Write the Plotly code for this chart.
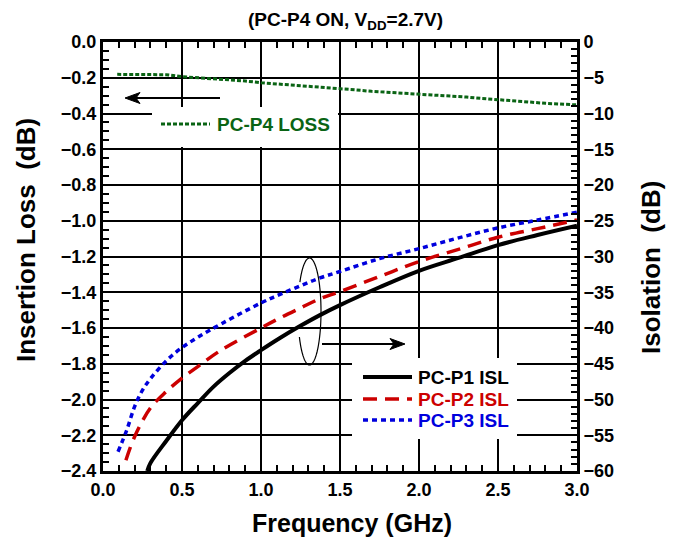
import numpy as np
import plotly.graph_objects as go

# ---------------- data ----------------
freq_p4 = [0.09, 0.2, 0.3, 0.4, 0.5, 0.6, 0.7, 0.8, 0.9, 1.0, 1.1, 1.2, 1.3, 1.4, 1.5,
           1.6, 1.7, 1.8, 1.9, 2.0, 2.1, 2.2, 2.3, 2.4, 2.5, 2.6, 2.7, 2.8, 2.9, 3.0]
loss_p4 = [-0.181, -0.182, -0.185, -0.183, -0.194, -0.199, -0.205, -0.212, -0.218, -0.228,
           -0.234, -0.240, -0.247, -0.256, -0.262, -0.268, -0.276, -0.281, -0.287, -0.293,
           -0.298, -0.305, -0.308, -0.316, -0.324, -0.330, -0.336, -0.343, -0.349, -0.352]

freq_p1 = [0.28, 0.3, 0.4, 0.5, 0.6, 0.7, 0.8, 0.9, 1.0, 1.12, 1.25, 1.373, 1.5, 1.75,
           2.0, 2.25, 2.5, 2.75, 3.0]
isl_p1 = [-60.0, -58.9, -55.8, -52.9, -50.5, -48.2, -46.3, -44.6, -43.1, -41.4, -39.7,
          -38.2, -36.8, -34.3, -32.0, -30.2, -28.4, -27.0, -25.7]

freq_p2 = [0.145, 0.2, 0.3, 0.4, 0.5, 0.6, 0.74, 1.0, 1.12, 1.25, 1.373, 1.5, 1.75, 2.0,
           2.25, 2.5, 2.75, 3.0]
isl_p2 = [-58.5, -55.2, -51.2, -48.9, -47.0, -45.4, -43.2, -40.0, -38.6, -37.2, -35.9,
          -34.9, -32.8, -30.7, -29.0, -27.3, -26.1, -24.9]

freq_p3 = [0.095, 0.15, 0.2, 0.25, 0.3, 0.4, 0.49, 0.6, 0.75, 1.0, 1.12, 1.25, 1.373,
           1.5, 1.75, 2.0, 2.25, 2.5, 2.75, 3.0]
isl_p3 = [-57.3, -54.3, -51.0, -48.7, -47.1, -44.6, -42.9, -41.3, -39.4, -36.5, -35.3,
          -34.1, -33.0, -32.1, -30.3, -28.9, -27.4, -26.0, -24.9, -23.8]

series_names = ["PC-P1 ISL", "PC-P2 ISL", "PC-P3 ISL"]
loss_name = "PC-P4 LOSS"
title_text = "(PC-P4 ON, V<sub>DD</sub>=2.7V)"
x_title = "Frequency (GHz)"
y_title = "Insertion Loss&nbsp; (dB)"
y2_title = "Isolation&nbsp; (dB)"

# ---------------- styling ----------------
FONT = "Liberation Sans, Arial, Helvetica, sans-serif"
GREEN = "#0a6414"
RED = "#cc0000"
BLUE = "#0000dd"

OFF = 8                      # default page body margin
W, H = 677 - OFF, 542 - OFF  # figure size inside the page
L, R, T, B = 103 - OFF, 100, 42 - OFF, 71
X0, X1 = 0.0, 3.0
Y0, Y1 = -2.4, 0.0
plot_w = W - L - R
plot_h = H - T - B


def px_x(px):
    """page pixel -> x data"""
    return X0 + (px - OFF - L) / plot_w * (X1 - X0)


def px_y(py):
    """page pixel -> left-axis data"""
    return Y1 - (py - OFF - T) / plot_h * (Y1 - Y0)


def page_px(px):
    return px - OFF


fig = go.Figure()

fig.add_trace(go.Scatter(
    x=freq_p4, y=loss_p4, mode="lines", yaxis="y", xaxis="x",
    line=dict(color=GREEN, width=3, dash="4px,2px"), showlegend=False,
    name=loss_name))
fig.add_trace(go.Scatter(
    x=freq_p1, y=isl_p1, mode="lines", yaxis="y2", xaxis="x", line_shape="spline",
    line=dict(color="black", width=4), showlegend=False, name=series_names[0]))
fig.add_trace(go.Scatter(
    x=freq_p2, y=isl_p2, mode="lines", yaxis="y2", xaxis="x", line_shape="spline",
    line=dict(color=RED, width=3.5, dash="14px,8px"), showlegend=False,
    name=series_names[1]))
fig.add_trace(go.Scatter(
    x=freq_p3, y=isl_p3, mode="lines", yaxis="y2", xaxis="x", line_shape="spline",
    line=dict(color=BLUE, width=3.5, dash="5px,4px"), showlegend=False,
    name=series_names[2]))
# invisible trace to anchor the top (mirror) axis
fig.add_trace(go.Scatter(x=[X0, X1], y=[None, None], xaxis="x2", yaxis="y",
                         mode="lines", showlegend=False, hoverinfo="skip"))

tickfont = dict(family=FONT, size=18, color="black", weight="bold")
common = dict(showline=True, linecolor="black", linewidth=3, ticks="inside",
              ticklen=7, tickwidth=2, tickcolor="black", zeroline=False,
              tickfont=tickfont)

fig.update_layout(
    width=W, height=H, autosize=False,
    margin=dict(l=L, r=R, t=T, b=B, pad=0),
    paper_bgcolor="white", plot_bgcolor="white",
    font=dict(family=FONT, color="black"),
    showlegend=False,
    xaxis=dict(range=[X0, X1], dtick=0.5, tick0=0, tickformat=".1f",
               showgrid=True, gridcolor="black", gridwidth=2, mirror=True,
               minor=dict(dtick=0.1, ticks="inside", ticklen=6, tickwidth=2,
                          tickcolor="black", showgrid=False),
               **common),
    xaxis2=dict(range=[X0, X1], overlaying="x", side="top", anchor="y",
                showticklabels=False, showgrid=False, dtick=0.5, tick0=0,
                minor=dict(dtick=0.1, ticks="inside", ticklen=6, tickwidth=2,
                           tickcolor="black", showgrid=False), **common),
    yaxis=dict(range=[Y0, Y1], dtick=0.2, tick0=0, tickformat=".1f",
               showgrid=True, gridcolor="black", gridwidth=2, mirror=True,
               minor=dict(dtick=0.05, ticks="inside", ticklen=6, tickwidth=2,
                          tickcolor="black", showgrid=False),
               **common),
    yaxis2=dict(range=[-60, 0], dtick=5, tick0=0, overlaying="y", side="right",
                anchor="x", showgrid=False,
                minor=dict(dtick=1, ticks="inside", ticklen=6, tickwidth=2,
                           tickcolor="black", showgrid=False),
                **common),
)

shapes = []
annotations = []

# PC-P4 LOSS label box (covers grid) with a line sample
shapes.append(dict(type="rect", xref="x", yref="y", layer="above",
                   x0=px_x(152), x1=px_x(338), y0=px_y(107), y1=px_y(147),
                   fillcolor="white", line=dict(width=0)))
shapes.append(dict(type="line", xref="x", yref="y", layer="above",
                   x0=px_x(161), x1=px_x(210), y0=px_y(124), y1=px_y(124),
                   line=dict(color=GREEN, width=3, dash="4px,2px")))
annotations.append(dict(xref="x", yref="y", x=px_x(215), y=px_y(124),
                        xanchor="left", yanchor="middle", showarrow=False,
                        text=loss_name,
                        font=dict(family=FONT, size=19, color=GREEN, weight="bold")))

# Legend box for the isolation curves
shapes.append(dict(type="rect", xref="x", yref="y", layer="above",
                   x0=px_x(352), x1=px_x(517), y0=px_y(358), y1=px_y(439),
                   fillcolor="white", line=dict(width=0)))
leg_rows = [377, 399, 420]
leg_styles = [dict(color="black", width=4),
              dict(color=RED, width=3.5, dash="14px,8px"),
              dict(color=BLUE, width=3.5, dash="5px,4px")]
leg_colors = ["black", RED, BLUE]
for name, row, sty, col in zip(series_names, leg_rows, leg_styles, leg_colors):
    shapes.append(dict(type="line", xref="x", yref="y", layer="above",
                       x0=px_x(363), x1=px_x(412), y0=px_y(row), y1=px_y(row),
                       line=sty))
    annotations.append(dict(xref="x", yref="y", x=px_x(416), y=px_y(row),
                            xanchor="left", yanchor="middle", showarrow=False,
                            text=name,
                            font=dict(family=FONT, size=19, color=col, weight="bold")))

# Ellipse (partially hidden on the left side)
cx, cy, rx, ry = 309.5, 311.5, 11.5, 53.5
th = np.radians(np.linspace(213.4, 511.5, 120))
ex = [px_x(cx + rx * np.cos(t)) for t in th]
ey = [px_y(cy + ry * np.sin(t)) for t in th]
path = "M " + " L ".join(f"{a:.5f},{b:.5f}" for a, b in zip(ex, ey))
shapes.append(dict(type="path", xref="x", yref="y", layer="above", path=path,
                   line=dict(color="black", width=1.2)))


# Arrows (shaft + stealth head), page-pixel geometry
def arrow(tail, tip, yrow):
    d = 1 if tip > tail else -1
    shapes.append(dict(type="line", xref="x", yref="y", layer="above",
                       x0=px_x(tail), x1=px_x(tip - d * 8), y0=px_y(yrow), y1=px_y(yrow),
                       line=dict(color="black", width=1.8)))
    pts = [(tip, yrow), (tip - d * 15, yrow - 5.5), (tip - d * 11, yrow),
           (tip - d * 15, yrow + 5.5)]
    p = "M " + " L ".join(f"{px_x(a):.5f},{px_y(b):.5f}" for a, b in pts) + " Z"
    shapes.append(dict(type="path", xref="x", yref="y", layer="above", path=p,
                       fillcolor="black", line=dict(color="black", width=1)))


arrow(220, 125, 98)
arrow(322, 405, 344)

# Title and axis titles (positions given in page pixels)
annotations.append(dict(xref="paper", yref="paper", x=(page_px(345) - L) / plot_w, y=1,
                        yshift=(T - page_px(21)), xanchor="center", yanchor="middle",
                        showarrow=False, text=title_text,
                        font=dict(family=FONT, size=19, color="black", weight="bold")))
annotations.append(dict(xref="paper", yref="paper", x=(page_px(352) - L) / plot_w, y=0,
                        yshift=-(page_px(523) - (H - B)), xanchor="center",
                        yanchor="middle", showarrow=False, text=x_title,
                        font=dict(family=FONT, size=25, color="black", weight="bold")))
annotations.append(dict(xref="paper", yref="paper", x=0, xshift=-(L - page_px(26)),
                        y=(H - B - page_px(240)) / plot_h, xanchor="center",
                        yanchor="middle", textangle=-90, showarrow=False, text=y_title,
                        font=dict(family=FONT, size=26, color="black", weight="bold")))
annotations.append(dict(xref="paper", yref="paper", x=1, xshift=page_px(651) - (W - R),
                        y=(H - B - page_px(268)) / plot_h, xanchor="center",
                        yanchor="middle", textangle=-90, showarrow=False, text=y2_title,
                        font=dict(family=FONT, size=26, color="black", weight="bold")))

fig.update_layout(shapes=shapes, annotations=annotations)
fig.write_html("out.html")
